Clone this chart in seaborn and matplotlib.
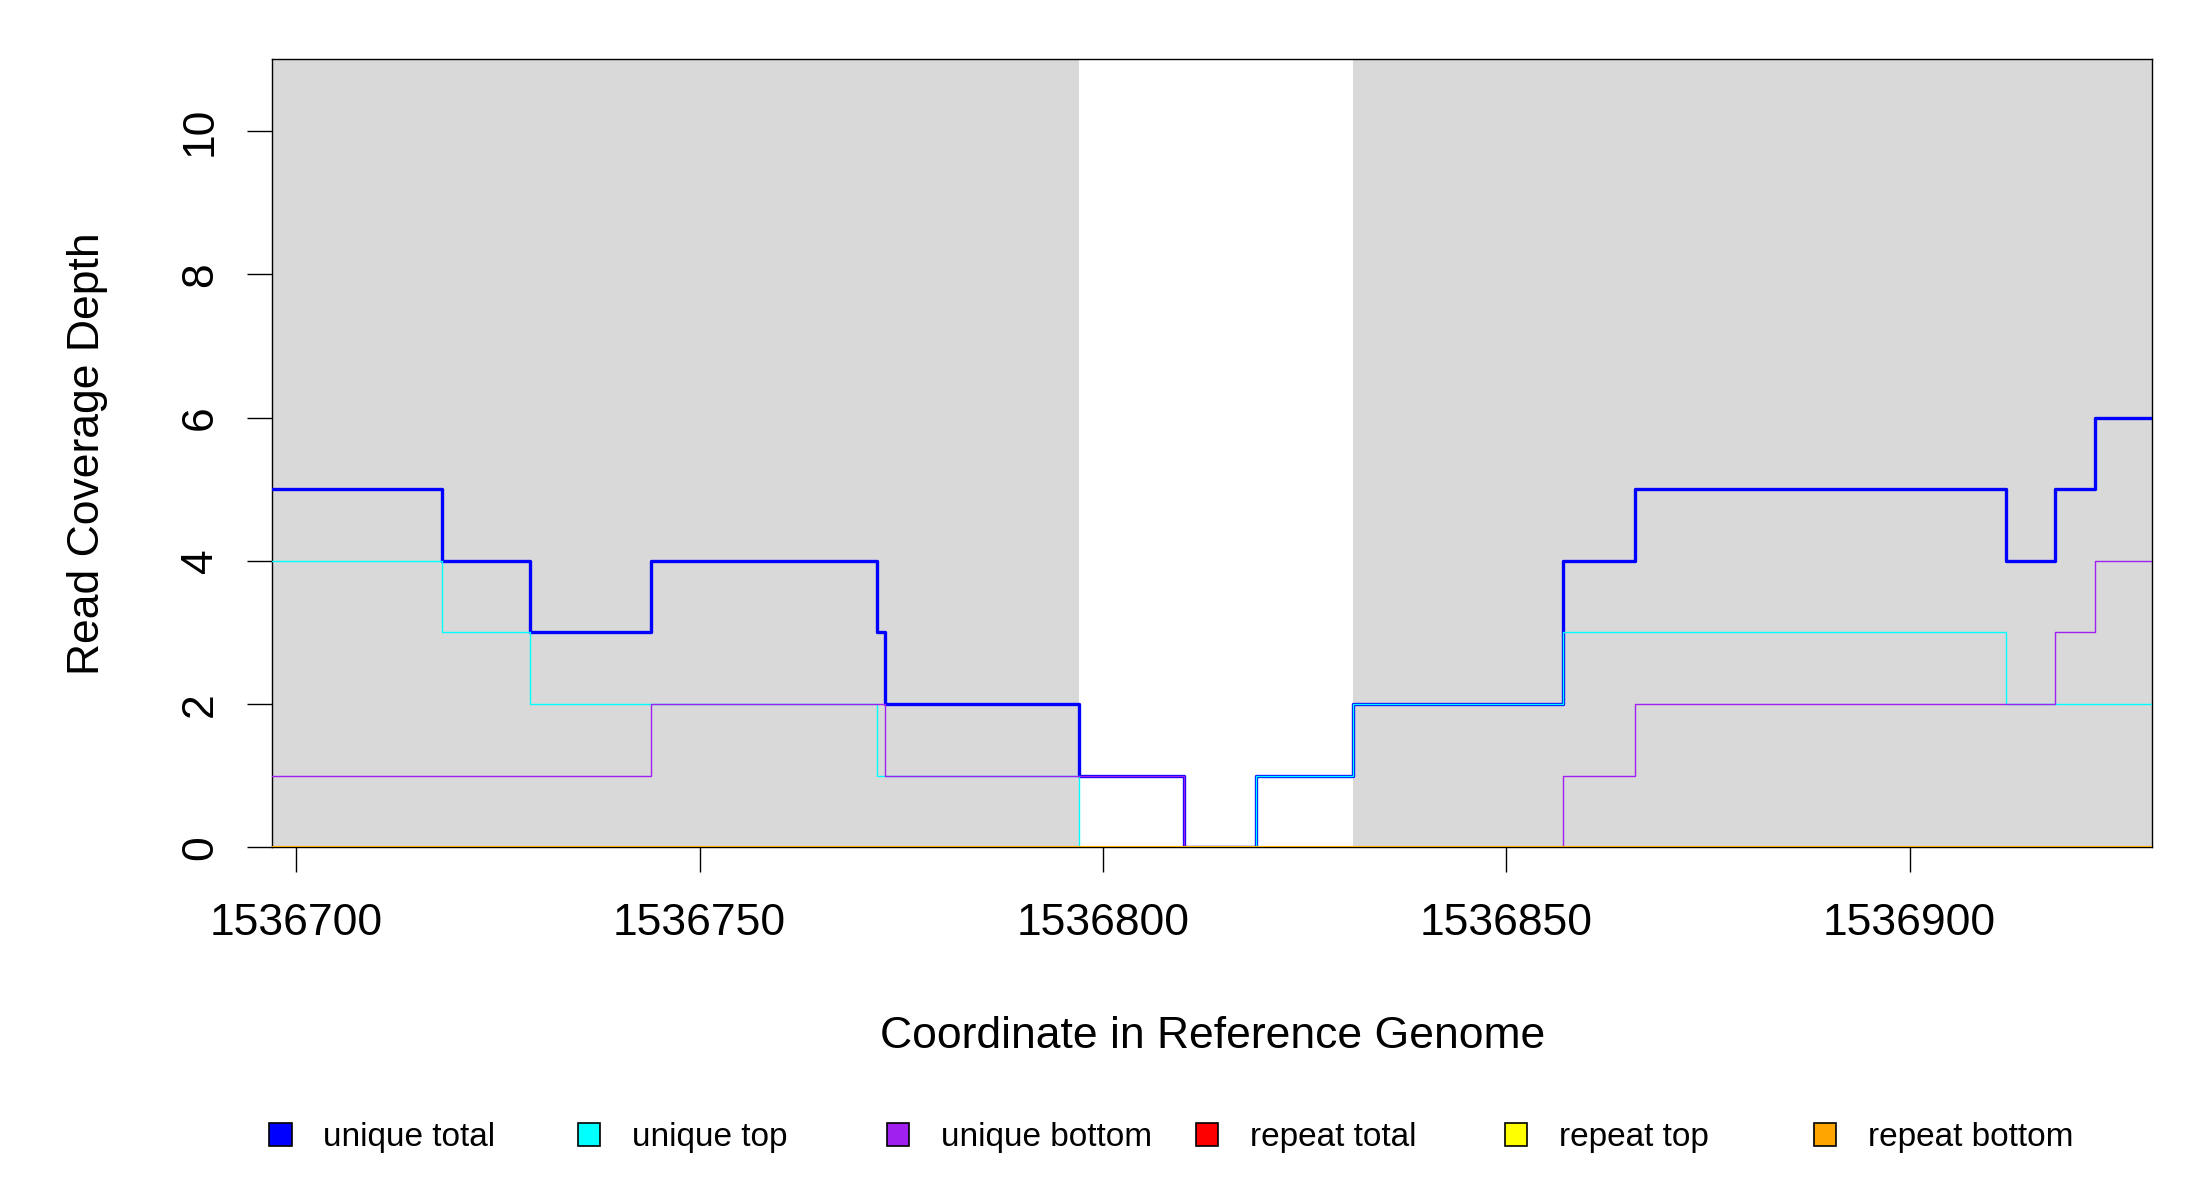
import numpy as np
import pandas as pd
import matplotlib
matplotlib.use("Agg")
import matplotlib.pyplot as plt
from matplotlib.patches import Patch
import seaborn as sns

# coverage data (step starts, last point closes the final step)
position = [1536697, 1536718, 1536729, 1536744, 1536772, 1536773, 1536797, 1536810,
            1536819, 1536831, 1536857, 1536866, 1536912, 1536918, 1536923, 1536930]
unique_total = [5, 4, 3, 4, 3, 2, 1, 0, 1, 2, 4, 5, 4, 5, 6, 6]
unique_top = [4, 3, 2, 2, 1, 1, 0, 0, 1, 2, 3, 3, 2, 2, 2, 2]
unique_bottom = [1, 1, 1, 2, 2, 1, 1, 0, 0, 0, 1, 2, 2, 3, 4, 4]
repeat_total = [0] * 16
repeat_top = [0] * 16
repeat_bottom = [0] * 16

# shaded (gray) regions
shade_start = [1536697, 1536831]
shade_end = [1536797, 1536930]

x_ticks = [1536700, 1536750, 1536800, 1536850, 1536900]
y_ticks = [0, 2, 4, 6, 8, 10]

series_names = ["unique total", "unique top", "unique bottom",
                "repeat total", "repeat top", "repeat bottom"]
series_values = [unique_total, unique_top, unique_bottom,
                 repeat_total, repeat_top, repeat_bottom]
series_colors = ["#0000FF", "#00FFFF", "#A020F0", "#FF0000", "#FFFF00", "#FFA500"]
series_lw = [2.4, 1.0, 1.0, 2.2, 2.2, 2.2]
series_alpha = [1, 1, 1, 0.8, 0.8, 0.8]

sns.set_style("ticks")
plt.rcParams['font.family'] = ['Liberation Sans', 'DejaVu Sans']
plt.rcParams['text.color'] = 'black'
plt.rcParams['axes.labelcolor'] = 'black'
plt.rcParams['xtick.color'] = 'black'
plt.rcParams['ytick.color'] = 'black'
plt.rcParams['axes.edgecolor'] = 'black'

fig = plt.figure(figsize=(22, 12), dpi=100)
ax = fig.add_axes([0.1237, 0.2938, 0.978 - 0.1237, 0.9506 - 0.2938])

for s, e in zip(shade_start, shade_end):
    ax.axvspan(s, e, color="#D9D9D9", lw=0, zorder=0)

for name, vals, col, lw, al in zip(series_names, series_values, series_colors,
                                   series_lw, series_alpha):
    df = pd.DataFrame({"pos": position, "depth": vals})
    sns.lineplot(data=df, x="pos", y="depth", color=col, linewidth=lw, alpha=al,
                 drawstyle="steps-post", estimator=None, ax=ax, legend=False,
                 zorder=3)

ax.set_xlim(position[0], position[-1])
ax.set_ylim(0, 11)
ax.set_xticks(x_ticks)
ax.set_xticklabels([str(t) for t in x_ticks])
ax.set_yticks(y_ticks)
ax.set_yticklabels([str(t) for t in y_ticks], rotation=90, va="center")

ax.tick_params(axis="both", direction="out", length=18, width=1, labelsize=32,
               color="black", labelcolor="black")
ax.tick_params(axis="x", pad=22)
ax.tick_params(axis="y", pad=19)

for sp in ax.spines.values():
    sp.set_visible(True)
    sp.set_color("black")
    sp.set_linewidth(1)
    sp.set_zorder(1)

ax.set_xlabel("Coordinate in Reference Genome", fontsize=32, color="black")
ax.set_ylabel("Read Coverage Depth", fontsize=32, color="black")
ax.xaxis.set_label_coords(0.5004, -0.2397)
ax.xaxis.label.set_va("center")
ax.yaxis.set_label_coords(-0.0983, 0.5)
ax.yaxis.label.set_va("center")

# legend row at the bottom, evenly spaced like R's horizontal legend
for i, (name, col) in enumerate(zip(series_names, series_colors)):
    h = Patch(facecolor=col, edgecolor="black", linewidth=1.2)
    fig.legend(handles=[h], labels=[name], loc="center left",
               bbox_to_anchor=(0.1224 + i * 0.1404, 0.052), frameon=False,
               fontsize=24, handlelength=0.67, handleheight=0.67,
               handletextpad=0.95, borderpad=0, borderaxespad=0,
               labelcolor="black")

fig.savefig("out.png", dpi=100, facecolor="white")
